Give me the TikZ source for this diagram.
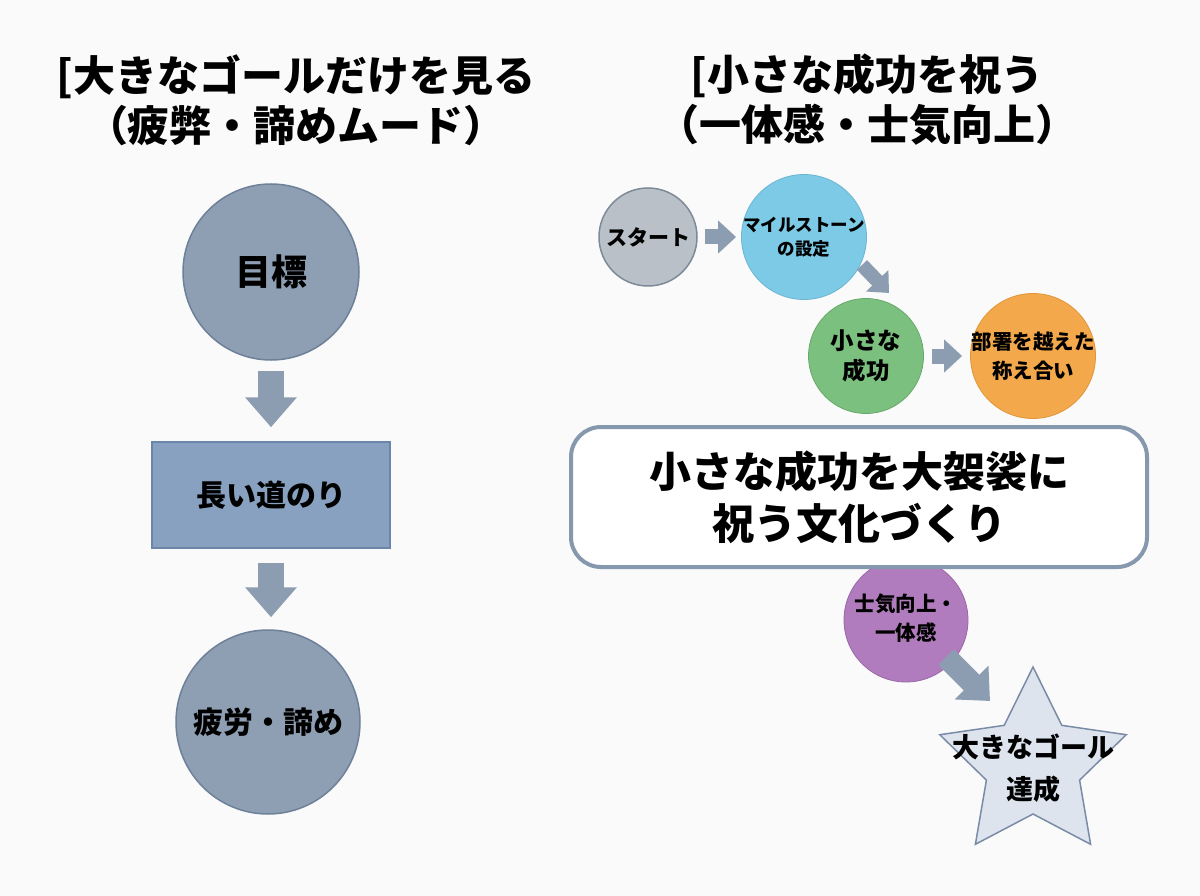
\documentclass[tikz,border=0pt]{standalone}
\usepackage{fontspec}
\setmainfont{Noto Sans CJK JP}
\usetikzlibrary{arrows.meta,shapes.geometric}
\definecolor{bg}{HTML}{FAFAFA}
\definecolor{lcirc}{HTML}{8E9EB3}
\definecolor{lcircb}{HTML}{6E8198}
\definecolor{rectf}{HTML}{89A1C0}
\definecolor{rectb}{HTML}{6B86A8}
\definecolor{arrowc}{HTML}{8D9DB1}
\definecolor{startf}{HTML}{B9C0C8}
\definecolor{startb}{HTML}{7E8A98}
\definecolor{msf}{HTML}{7CCAE6}
\definecolor{msb}{HTML}{6BB5D2}
\definecolor{ssf}{HTML}{7CC07F}
\definecolor{ssb}{HTML}{67A96A}
\definecolor{depf}{HTML}{F3A84B}
\definecolor{depb}{HTML}{E09637}
\definecolor{purf}{HTML}{B07CBD}
\definecolor{purb}{HTML}{9A66A7}
\definecolor{starf}{HTML}{DDE4EE}
\definecolor{starb}{HTML}{7A8CA5}
\definecolor{boxb}{HTML}{8698AE}
\newcommand\fsz[2]{\fontsize{#1}{#2}\selectfont}
\tikzset{
  circ/.style={circle, draw, line width=1.5pt, inner sep=0pt},
  txt/.style={align=center, inner sep=0pt, font=\bfseries},
  barrow/.style n args={3}{draw=arrowc, line width=#1, -{Triangle[width=#2,length=#3]}},
}
\begin{document}
\begin{tikzpicture}[x=1pt,y=-1pt]
\useasboundingbox[fill=bg] (0,0) rectangle (1200,896);
% titles
\node[txt, font=\bfseries\fsz{42}{50}] (tl) at (296,100) {[大きなゴールだけを見る\\（疲弊・諦めムード）};
\node[txt, font=\bfseries\fsz{42}{50}] (tr) at (867,100) {[小さな成功を祝う\\（一体感・士気向上）};
% left column
\node[circ, fill=lcirc, draw=lcircb, minimum size=176pt] (goal) at (271,272) {};
\node[txt, font=\bfseries\fsz{36}{40}] (goalt) at (goal) {目標};
\node[rectangle, draw=rectb, fill=rectf, line width=1.5pt, minimum width=238pt, minimum height=106pt] (road) at (271,495) {};
\node[txt, font=\bfseries\fsz{30}{36}] (roadt) at (road) {長い道のり};
\node[circ, fill=lcirc, draw=lcircb, minimum size=184pt] (tired) at (268,722) {};
\node[txt, font=\bfseries\fsz{30}{36}] (tiredt) at (tired) {疲労・諦め};
\draw[barrow={26pt}{50pt}{30pt}, shorten <=10pt, shorten >=14pt] (goal.south) -- (road.north);
\draw[barrow={26pt}{50pt}{30pt}, shorten <=14pt, shorten >=12pt] (road.south) -- (road.south |- tired.north);
% right column
\node[circ, fill=startf, draw=startb, minimum size=98pt] (start) at (648,237) {};
\node[txt, font=\bfseries\fsz{21}{26}] (startt) at (start) {スタート};
\node[circ, fill=msf, draw=msb, line width=0.8pt, minimum size=125pt] (ms) at (804,237) {};
\node[txt, font=\bfseries\fsz{17.5}{24}] (mst) at (ms) {マイルストーン\\の設定};
\node[circ, fill=ssf, draw=ssb, line width=0.8pt, minimum size=115pt] (ss) at (866,356) {};
\node[txt, font=\bfseries\fsz{23.5}{30}] (sst) at (ss) {小さな\\成功};
\node[circ, fill=depf, draw=depb, line width=0.8pt, minimum size=125pt] (dep) at (1033,356) {};
\node[txt, font=\bfseries\fsz{20.5}{29}] (dept) at (dep) {部署を越えた\\称え合い};
\node[circ, fill=purf, draw=purb, line width=0.8pt, minimum size=124pt] (pur) at (906,620) {};
\node[txt, font=\bfseries\fsz{20.5}{29}] (purt) at (906,618) {士気向上・\\一体感};
\node[rectangle, rounded corners=30pt, draw=boxb, fill=white, line width=4pt, minimum width=576pt, minimum height=140pt] (box) at (859,497) {};
\node[txt, font=\bfseries\fsz{42}{52}] (boxt) at (box) {小さな成功を大袈裟に\\祝う文化づくり};
\node[star, star points=5, star point ratio=2, draw=starb, fill=starf, line width=1.5pt, minimum size=196pt, inner sep=0pt] (goalstar) at (1033,765) {};
\node[txt, font=\bfseries\fsz{27}{42}] (goalstart) at (1033,768) {大きなゴール\\達成};
\coordinate (d1s) at (862,265);
\coordinate (d1e) at (889,293);
\coordinate (d2s) at (946,657);
\coordinate (d2e) at (990,701);
\draw[barrow={15pt}{32pt}{18pt}, shorten <=7pt, shorten >=5pt] (start.east) -- (ms.west);
\draw[barrow={14pt}{30pt}{17pt}] (d1s) -- (d1e);
\draw[barrow={15pt}{32pt}{18pt}, shorten <=8pt, shorten >=8pt] (ss.east) -- (dep.west);
\draw[barrow={22pt}{46pt}{26pt}] (d2s) -- (d2e);
\end{tikzpicture}
\end{document}
